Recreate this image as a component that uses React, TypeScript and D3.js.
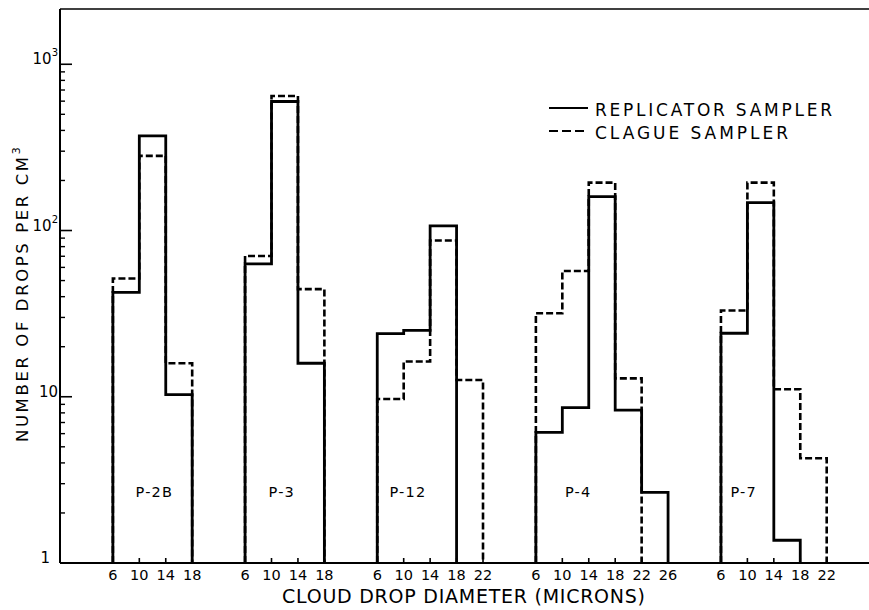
import React from "react";
import * as d3 from "d3";

// ---- data ----
const groups = ["P-2B", "P-3", "P-12", "P-4", "P-7"];
const binEdges = [
  [6, 10, 14, 18],
  [6, 10, 14, 18],
  [6, 10, 14, 18, 22],
  [6, 10, 14, 18, 22, 26],
  [6, 10, 14, 18, 22],
];
// drops per cm^3 per bin (null = none)
const replicator: (number | null)[][] = [
  [42.5, 371, 10.3],
  [63, 597, 15.9],
  [24, 25.1, 106.6, null],
  [6.1, 8.6, 160, 8.3, 2.66],
  [24.1, 147, 1.37, null],
];
const clague: (number | null)[][] = [
  [51.4, 281, 15.9],
  [70.3, 645, 44.4],
  [9.7, 16.3, 87, 12.6],
  [31.8, 57.1, 194, 12.9, null],
  [33, 194, 11.1, 4.27],
];
const yTickValues = [1, 10, 100, 1000];
const yTickBase = ["1", "10", "10", "10"];
const yTickExp = ["", "", "2", "3"];
const legendLabels = ["REPLICATOR SAMPLER", "CLAGUE SAMPLER"];
const xTitle = "CLOUD DROP DIAMETER (MICRONS)";
const yTitle = "NUMBER OF DROPS PER CM";

// ---- layout ----
const W = 869;
const H = 610;
const LEFT = 60;
const RIGHT = 869;
const TOP = 9;
const BOTTOM = 563;
const GAP = 2; // empty bins between groups
const labelOffsets = [1.57, 1.39, 1.16, 1.6, 0.86];
const FONT = "'DejaVu Sans', sans-serif";

export default function App() {
  const starts: number[] = [];
  let cursor = GAP;
  binEdges.forEach((e) => {
    starts.push(cursor);
    cursor += e.length - 1 + GAP;
  });
  const x = d3.scaleLinear().domain([0, 30.6]).range([LEFT, RIGHT]);
  const y = d3.scaleLog().domain([1, 2150]).range([BOTTOM, TOP]);

  const line = d3
    .line<[number, number]>()
    .x((d) => d[0])
    .y((d) => d[1]);

  const stepPath = (vals: (number | null)[], g: number) => {
    let n = vals.length;
    while (n > 0 && vals[n - 1] == null) n--;
    const pts: [number, number][] = [];
    const s = starts[g];
    pts.push([x(s), BOTTOM]);
    for (let i = 0; i < n; i++) {
      const v = vals[i];
      const yy = v == null ? BOTTOM : y(v);
      pts.push([x(s + i), yy]);
      pts.push([x(s + i + 1), yy]);
    }
    pts.push([x(s + n), BOTTOM]);
    return line(pts) || "";
  };

  const minor: number[] = [];
  [1, 10, 100].forEach((d) => {
    for (let k = 2; k <= 9; k++) minor.push(d * k);
  });

  return (
    <svg
      width={W}
      height={H}
      style={{ position: "absolute", left: 0, top: 0, background: "#fff" }}
      fontFamily={FONT}
    >
      <rect x={0} y={0} width={W} height={H} fill="#fff" />
      {/* frame */}
      <line x1={LEFT} y1={TOP} x2={RIGHT} y2={TOP} stroke="#000" strokeWidth={1.6} />
      <line x1={LEFT} y1={TOP} x2={LEFT} y2={BOTTOM} stroke="#000" strokeWidth={2} />
      <line x1={LEFT} y1={BOTTOM} x2={RIGHT} y2={BOTTOM} stroke="#000" strokeWidth={2} />

      {/* y ticks */}
      {yTickValues.map((v, i) => (
        <g key={"yt" + i}>
          {i > 0 && (
            <line x1={LEFT} x2={LEFT + 12} y1={y(v)} y2={y(v)} stroke="#000" strokeWidth={1.6} />
          )}
          <text
            x={i === 0 ? 50 : 58}
            y={y(v)}
            textAnchor="end"
            fontSize={15}
            fill="#000"
          >
            {yTickBase[i]}
            {yTickExp[i] && (
              <tspan fontSize={10} dy={-8}>
                {yTickExp[i]}
              </tspan>
            )}
          </text>
        </g>
      ))}
      {minor.map((v) => (
        <line key={"m" + v} x1={LEFT} x2={LEFT + 5} y1={y(v)} y2={y(v)} stroke="#000" strokeWidth={1.4} />
      ))}

      {/* x ticks & labels */}
      {binEdges.map((edges, g) =>
        edges.map((e, i) => (
          <g key={"xt" + g + "-" + i}>
            <line
              x1={x(starts[g] + i)}
              x2={x(starts[g] + i)}
              y1={BOTTOM}
              y2={BOTTOM - 5}
              stroke="#000"
              strokeWidth={1.6}
            />
            <text x={x(starts[g] + i)} y={580} textAnchor="middle" fontSize={14.5} fill="#000">
              {e}
            </text>
          </g>
        ))
      )}

      {/* histograms: dashed first, solid on top */}
      {clague.map((vals, g) => (
        <path
          key={"c" + g}
          d={stepPath(vals, g)}
          fill="none"
          stroke="#000"
          strokeWidth={2.6}
          strokeDasharray="7,3"
        />
      ))}
      {replicator.map((vals, g) => (
        <path key={"r" + g} d={stepPath(vals, g)} fill="none" stroke="#000" strokeWidth={2.8} />
      ))}

      {/* group labels */}
      {groups.map((name, g) => (
        <text
          key={"gl" + g}
          x={x(starts[g] + labelOffsets[g])}
          y={497}
          textAnchor="middle"
          fontSize={14.5}
          letterSpacing={1.2}
          fill="#000"
        >
          {name}
        </text>
      ))}

      {/* legend */}
      <line x1={549} x2={588} y1={108} y2={108} stroke="#000" strokeWidth={2.2} />
      <line x1={549} x2={588} y1={131} y2={131} stroke="#000" strokeWidth={2.2} strokeDasharray="9,4" />
      <text x={595} y={115.5} fontSize={17} textLength={237} lengthAdjust="spacing" fill="#000">
        {legendLabels[0]}
      </text>
      <text x={595} y={139} fontSize={17} textLength={193} lengthAdjust="spacing" fill="#000">
        {legendLabels[1]}
      </text>

      {/* axis titles */}
      <text x={282} y={603} fontSize={19} textLength={363} lengthAdjust="spacing" fill="#000">
        {xTitle}
      </text>
      <text
        transform="translate(27.5,442) rotate(-90)"
        x={0}
        y={0}
        fontSize={16.5}
        fill="#000"
        letterSpacing={2.6}
      >
        {yTitle}
        <tspan fontSize={11} dy={-8}>
          3
        </tspan>
      </text>
    </svg>
  );
}
